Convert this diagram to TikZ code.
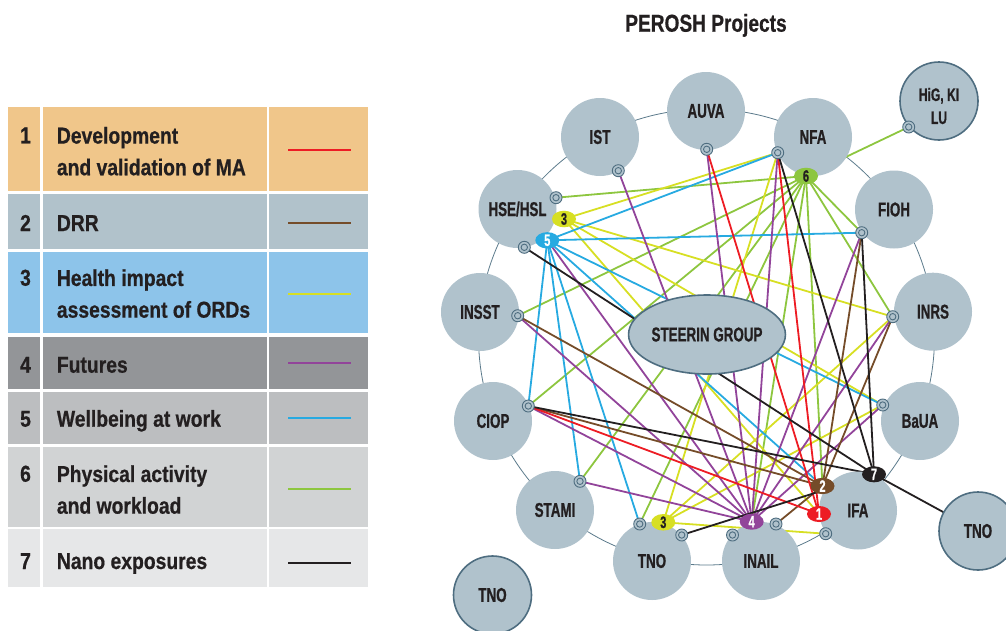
\documentclass[tikz,border=0pt]{standalone}
\usepackage{fontspec}
\newfontfamily\legfont{Liberation Sans Bold}[FakeStretch=0.84, FakeBold=0.6]
\newfontfamily\titlefont{Liberation Sans Bold}[FakeStretch=0.78, FakeBold=0.6]
\newfontfamily\nodefont{Liberation Sans Bold}[FakeStretch=0.67, FakeBold=0.8]
\usetikzlibrary{shapes.geometric}
\definecolor{ink}{HTML}{231F20}
\definecolor{nodefill}{HTML}{B0C2CC}
\definecolor{edgecol}{HTML}{4E6D80}
\definecolor{ringcol}{HTML}{5B7A8B}
\definecolor{cred}{HTML}{ED1C24}
\definecolor{cbrown}{HTML}{754C29}
\definecolor{cyellow}{HTML}{D7DF23}
\definecolor{cpurple}{HTML}{92449A}
\definecolor{cblue}{HTML}{27AAE1}
\definecolor{cgreen}{HTML}{8DC63F}
\definecolor{cblack}{HTML}{231F20}
\definecolor{rowA}{HTML}{F0C68A}
\definecolor{rowB}{HTML}{B1C2CB}
\definecolor{rowC}{HTML}{8DC4EA}
\definecolor{rowD}{HTML}{939598}
\definecolor{rowE}{HTML}{BCBEC0}
\definecolor{rowF}{HTML}{D1D3D4}
\definecolor{rowG}{HTML}{E6E7E8}
\pgfdeclarelayer{ringlayer}
\pgfdeclarelayer{linelayer}
\pgfsetlayers{ringlayer,linelayer,main}
\begin{document}
\begin{tikzpicture}[x=1pt,y=-1pt,
  org/.style={circle, fill=nodefill, minimum size=78pt, inner sep=0pt, text=ink,
    font=\nodefont\fontsize{20}{22}\selectfont},
  extorg/.style={org, draw=edgecol, line width=1.6pt},
  steer/.style={ellipse, fill=nodefill, draw=edgecol, line width=1.6pt,
    minimum width=132pt, minimum height=79pt, inner sep=0pt, text=ink,
    font=\nodefont\fontsize{20}{22}\selectfont},
  port/.style={circle, draw=edgecol, fill=nodefill, line width=0.9pt,
    minimum size=12pt, inner sep=0pt,
    path picture={\draw[edgecol, line width=0.9pt] (path picture bounding box.center) circle[radius=3.2pt];}},
  badge/.style={ellipse, minimum width=24pt, minimum height=16pt, inner sep=0pt,
    font=\nodefont\fontsize{16.5}{16}\selectfont},
  link/.style={line width=1.8pt},
  l1/.style={link, draw=cred},
  l2/.style={link, draw=cbrown},
  l3/.style={link, draw=cyellow},
  l4/.style={link, draw=cpurple},
  l5/.style={link, draw=cblue},
  l6/.style={link, draw=cgreen},
  l7/.style={link, draw=cblack},
  legtext/.style={inner sep=0pt, text=ink, align=left,
    font=\legfont\fontsize{23}{31.7}\selectfont},
  legnum/.style={inner sep=0pt, text=ink, anchor=base,
    font=\legfont\fontsize{23}{31.7}\selectfont}
]
\useasboundingbox (0,0) rectangle (1006,630);

% ---------- legend ----------
\foreach \t/\b/\c in {106.7/190.7/rowA, 194/249/rowB, 251.7/332.7/rowC,
  336.7/389.3/rowD, 392/444/rowE, 447.3/526.7/rowF, 529.3/587.3/rowG}{
  \fill[\c] (8,\t) rectangle (40,\b);
  \fill[\c] (42.7,\t) rectangle (266.7,\b);
  \fill[\c] (269.3,\t) rectangle (368,\b);
}
\node[legnum] (n1) at (25.5,143.3) {1};
\node[legnum] (n2) at (25.5,231) {2};
\node[legnum] (n3) at (25.5,285.7) {3};
\node[legnum] (n4) at (25.5,372.7) {4};
\node[legnum] (n5) at (25.5,426.7) {5};
\node[legnum] (n6) at (25.5,481.7) {6};
\node[legnum] (n7) at (25.5,569) {7};
\node[legtext, anchor=north west] (t1) at (56.7,126.7) {Development\\and validation of MA};
\node[legtext, anchor=base west] (t2) at (56.7,231) {DRR};
\node[legtext, anchor=north west] (t3) at (56.7,269.1) {Health impact\\assessment of ORDs};
\node[legtext, anchor=base west] (t4) at (56.7,372.7) {Futures};
\node[legtext, anchor=base west] (t5) at (56.7,426.7) {Wellbeing at work};
\node[legtext, anchor=north west] (t6) at (56.7,465.1) {Physical activity\\and workload};
\node[legtext, anchor=base west] (t7) at (56.7,569) {Nano exposures};
\draw[l1] (288,150) -- (351,150);
\draw[l2] (288,223.3) -- (351,223.3);
\draw[l3] (288,294.3) -- (351,294.3);
\draw[l4] (288,363.3) -- (351,363.3);
\draw[l5] (288,417.7) -- (351,417.7);
\draw[l6] (288,488.7) -- (351,488.7);
\draw[l7] (288,562.7) -- (351,562.7);

% ---------- title ----------
\node[anchor=base, inner sep=0pt, text=ink, font=\titlefont\fontsize{24.5}{26}\selectfont]
  (title) at (706,31.7) {PEROSH Projects};

% ---------- ring ----------
\begin{pgfonlayer}{ringlayer}
  \draw[ringcol, line width=0.8pt] (706.5,337) circle[radius=228pt];
\end{pgfonlayer}

% ---------- organisations ----------
\node[org] (IST) at (600,137) {IST};
\node[org] (AUVA) at (706,111) {AUVA};
\node[org] (NFA) at (813,137) {NFA};
\node[extorg] (HiG) at (939,101) {};
\node[inner sep=0pt, text=ink, align=center, font=\nodefont\fontsize{18}{23}\selectfont] (HiGt) at (939,106) {HiG, KI\\LU};
\node[org] (FIOH) at (894,209.5) {FIOH};
\node[org] (INRS) at (933,311.7) {INRS};
\node[org] (BaUA) at (920,421) {BaUA};
\node[org] (IFA) at (858,510.5) {IFA};
\node[org] (INAIL) at (761,561) {INAIL};
\node[org] (TNO) at (652,561) {TNO};
\node[org] (STAMI) at (555,510) {STAMI};
\node[org] (CIOP) at (493,421) {CIOP};
\node[org] (INSST) at (480,312) {INSST};
\node[org] (HSE) at (517.5,209) {HSE/HSL};
\node[extorg] (TNOr) at (978,531) {TNO};
\node[extorg] (TNOl) at (492.5,595) {TNO};
\node[steer] (SG) at (707,334.5) {STEERIN GROUP};

% ---------- ports ----------
\node[port] (pIST) at (618.3,170.7) {};
\node[port] (pAUVA) at (706.7,149.3) {};
\node[port] (pHSEa) at (556,197.7) {};
\node[port] (pHSEb) at (524.3,247.3) {};
\node[port] (pNFA) at (777.7,152.7) {};
\node[port] (pHiG) at (908.7,127) {};
\node[port] (pFIOH) at (861.7,232.7) {};
\node[port] (pINSST) at (517.7,315.7) {};
\node[port] (pCIOP) at (528.3,406) {};
\node[port] (pINRS) at (892.7,316.7) {};
\node[port] (pBaUA) at (882.7,405) {};
\node[port] (pSTAMI) at (580,481.3) {};
\node[port] (pTNOa) at (639.7,524) {};
\node[port] (pTNOb) at (681.7,535) {};
\node[port] (pINAILa) at (732.5,535) {};
\node[port] (pINAILb) at (776,524) {};
\node[port] (pIFA) at (825.7,533.7) {};

% ---------- project badges ----------
\node[badge, fill=cyellow, text=ink] (b3a) at (564,219) {3};
\node[badge, fill=cblue, text=white] (b5) at (547.3,240.3) {5};
\node[badge, fill=cgreen, text=ink] (b6) at (806,176) {6};
\node[badge, fill=cyellow, text=ink] (b3b) at (663.3,522.3) {3};
\node[badge, fill=cpurple, text=white] (b4) at (751.7,521.7) {4};
\node[badge, fill=cred, text=white] (b1) at (819,514) {1};
\node[badge, fill=cbrown, text=white] (b2) at (822.5,486) {2};
\node[badge, fill=cblack, text=white] (b7) at (874,474.3) {7};

% ---------- connectors ----------
\begin{pgfonlayer}{linelayer}
  % 6 physical activity (green)
  \foreach \p in {pHSEa,pHiG,pINSST,pCIOP,pSTAMI,pTNOa,b4,b2,pINRS,pFIOH}
    \draw[l6] (b6.center) -- (\p.center);
  % 3 health impact (yellow)
  \foreach \p in {pNFA,pINRS,pBaUA,b1}
    \draw[l3] (b3a.center) -- (\p.center);
  \foreach \p in {pNFA,pINRS,pBaUA,pIFA}
    \draw[l3] (b3b.center) -- (\p.center);
  % 5 wellbeing (blue)
  \foreach \p in {pNFA,pFIOH,pBaUA,b2,pCIOP,pSTAMI,pTNOa}
    \draw[l5] (b5.center) -- (\p.center);
  % 4 futures (purple)
  \foreach \p in {pIST,pAUVA,pNFA,b5,pINSST,pCIOP,pSTAMI,pFIOH,pINRS,pBaUA}
    \draw[l4] (\p.center) -- (b4.center);
  % 2 DRR (brown)
  \foreach \p in {pINSST,pCIOP,pFIOH,pINRS,pINAILb}
    \draw[l2] (\p.center) -- (b2.center);
  % 1 development (red)
  \foreach \p in {pAUVA,pNFA,pCIOP}
    \draw[l1] (\p.center) -- (b1.center);
  % 7 nano (black)
  \foreach \p in {pNFA,pFIOH,pHSEb,pCIOP,pTNOb}
    \draw[l7] (\p.center) -- (b7.center);
  \draw[l7] (b7.center) -- (TNOr.center);
\end{pgfonlayer}
\end{tikzpicture}
\end{document}
